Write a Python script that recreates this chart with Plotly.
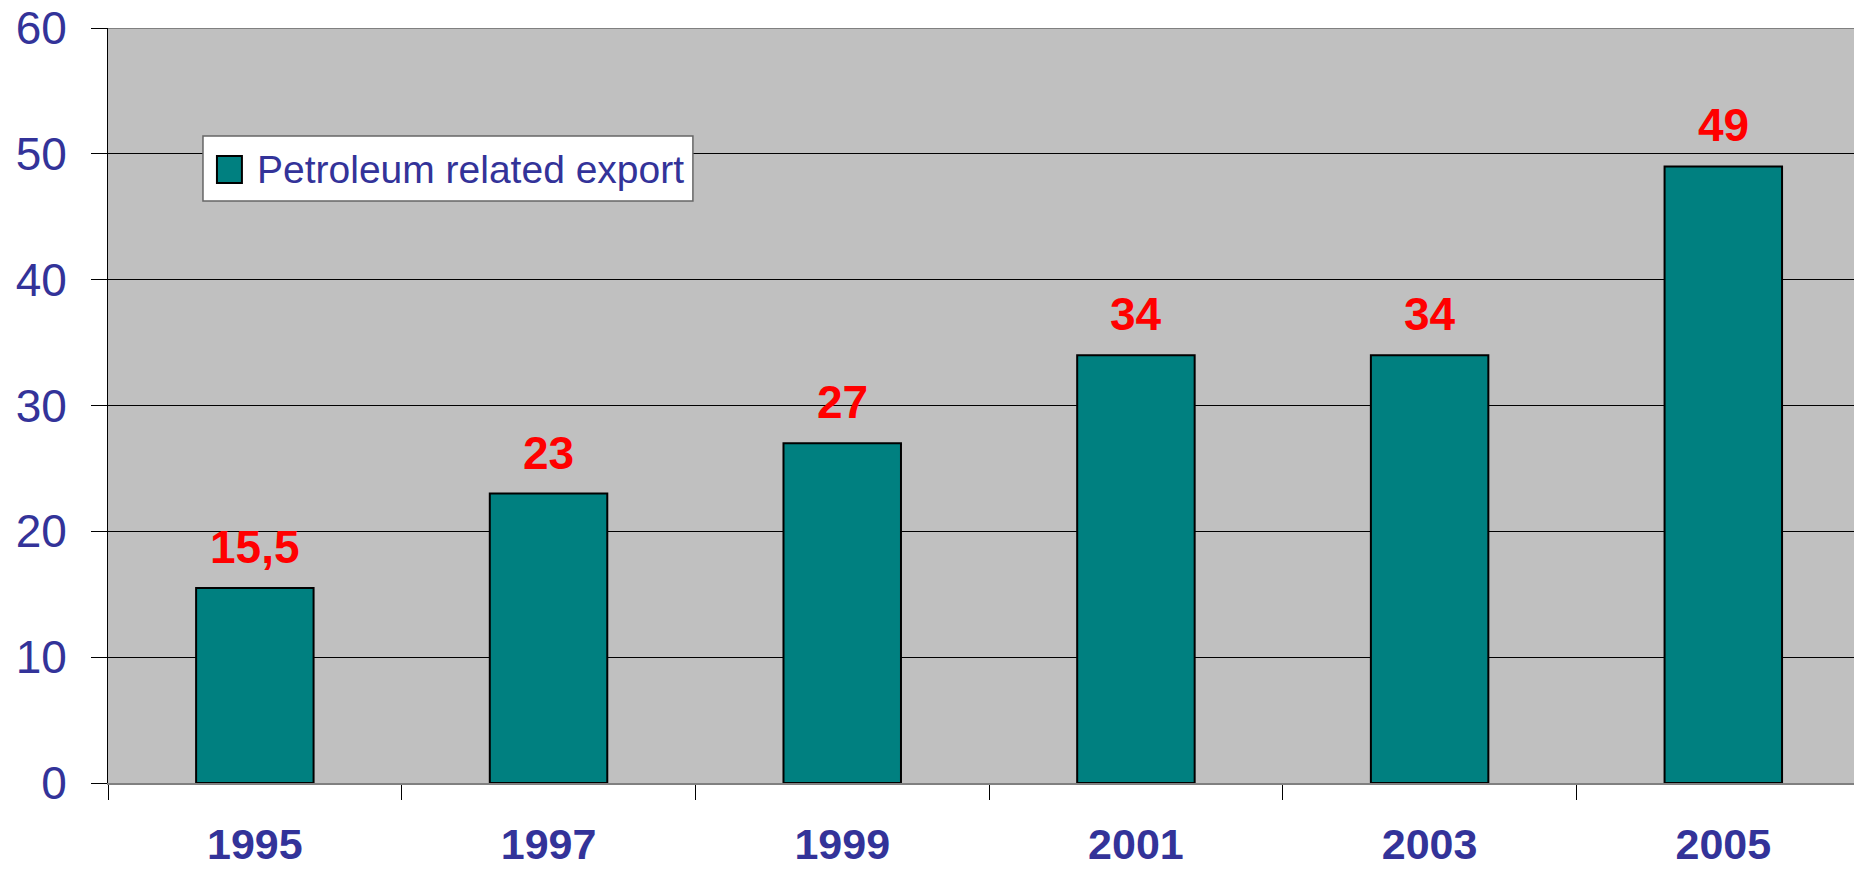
import plotly.graph_objects as go

years = ["1995", "1997", "1999", "2001", "2003", "2005"]
values = [15.5, 23, 27, 34, 34, 49]
value_labels = ["15,5", "23", "27", "34", "34", "49"]
series_name = "Petroleum related export"

FONT = "Arial, Liberation Sans, sans-serif"
NAVY = "#333399"
TEAL = "#008080"

fig = go.Figure()
fig.add_trace(go.Bar(
    x=years, y=values, width=0.4, name=series_name,
    marker=dict(color=TEAL, line=dict(color="black", width=2)),
    showlegend=False, hoverinfo="skip",
))

for i, (v, lab) in enumerate(zip(values, value_labels)):
    fig.add_annotation(x=i, y=v, xref="x", yref="y", text=f"<b>{lab}</b>",
                       showarrow=False, yshift=41, xanchor="center", yanchor="middle",
                       font=dict(family=FONT, size=46, color="#FF0000"))

# manual legend
fig.add_shape(type="rect", xref="paper", yref="paper",
              x0=0.0544, x1=0.335, y0=0.771, y1=0.857,
              fillcolor="white", line=dict(color="#666666", width=1.5))
fig.add_shape(type="rect", xref="paper", yref="paper",
              x0=0.0624, x1=0.0767, y0=0.7947, y1=0.8305,
              fillcolor=TEAL, line=dict(color="black", width=2))
fig.add_annotation(xref="paper", yref="paper", x=0.0842, y=0.812,
                   xanchor="left", yanchor="middle", showarrow=False,
                   text=series_name, font=dict(family=FONT, size=39, color=NAVY))

# top border in gray
fig.add_shape(type="line", xref="paper", yref="y", x0=0, x1=1, y0=60, y1=60,
              line=dict(color="#808080", width=2))

fig.update_layout(
    width=1854, height=869,
    margin=dict(l=108, r=0, t=28, b=86, autoexpand=False),
    paper_bgcolor="white", plot_bgcolor="#C0C0C0",
    font=dict(family=FONT, color=NAVY),
    bargap=0.6,
)
fig.update_xaxes(
    type="category", range=[-0.5, 5.445], tickson="boundaries",
    ticks="outside", ticklen=15, tickcolor="black", tickwidth=1,
    showgrid=False, showline=True, linecolor="#808080", linewidth=2,
    tickfont=dict(family=FONT, size=43, color=NAVY, weight="bold"),
    ticklabelstandoff=22, automargin=False,
)
fig.update_yaxes(
    range=[0, 60], dtick=10, showgrid=True, gridcolor="black", gridwidth=1,
    zeroline=False, showline=True, linecolor="black", linewidth=1,
    ticks="outside", ticklen=16, tickcolor="black",
    tickfont=dict(family=FONT, size=46, color=NAVY),
    ticklabelstandoff=15, automargin=False,
)

fig.write_html(
    "out.html",
    config={"displayModeBar": False},
    post_script="document.body.style.margin='0';document.body.style.overflow='hidden';",
)
